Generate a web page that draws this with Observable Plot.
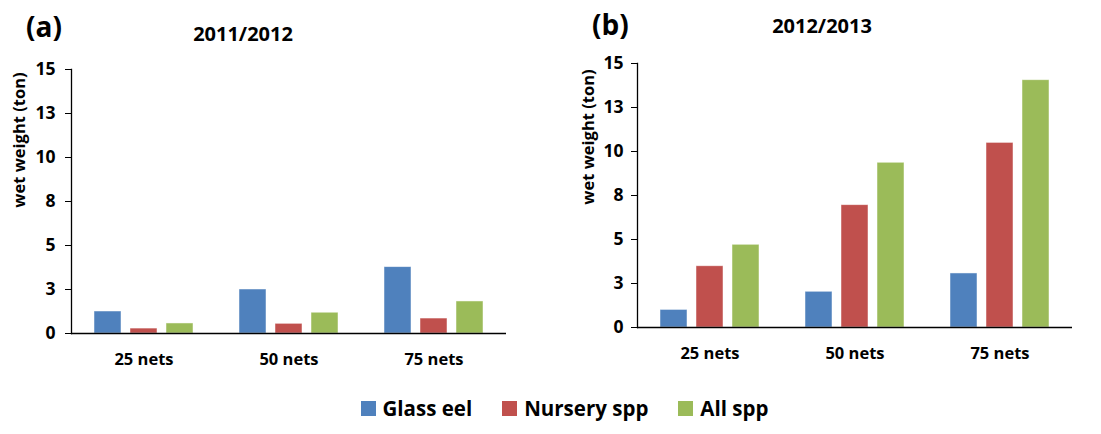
<!DOCTYPE html>
<html>
<head>
<meta charset="utf-8">
<script src="https://cdn.jsdelivr.net/npm/d3@7"></script>
<script src="https://cdn.jsdelivr.net/npm/@observablehq/plot@0.6"></script>
<style>
  html, body { margin: 0; padding: 0; background: #fff; }
  #root { position: relative; width: 1101px; height: 434px; font-family: "Open Sans", sans-serif; font-weight: bold; color: #000; overflow: hidden; }
  .panel { position: absolute; top: 0; }
  .tag { position: absolute; font-size: 28px; line-height: 1; }
  .title { position: absolute; font-size: 20px; line-height: 1; transform: translateX(-50%); }
  .ylab { position: absolute; font-size: 16.5px; line-height: 1; white-space: nowrap; transform: translate(-50%, -50%) rotate(-90deg); }
  #legend { position: absolute; top: 398px; left: 14px; width: 1101px; display: flex; justify-content: center; gap: 30px; font-size: 20.5px; line-height: 1; }
  #legend span.item { display: flex; align-items: center; gap: 7px; }
  #legend span.sw { width: 15px; height: 15px; display: inline-block; }
</style>
</head>
<body>
<div id="root"></div>
<script>
// Net counts on the x axis and the three catch series
const categories = ["25 nets", "50 nets", "75 nets"];
const series = ["Glass eel", "Nursery spp", "All spp"];
const colors = ["#4F81BD", "#C0504D", "#9BBB59"];

// Season 2011/2012, wet weight in tons
const glassEel2011 = [1.25, 2.5, 3.77];
const nursery2011 = [0.28, 0.55, 0.85];
const allSpp2011 = [0.57, 1.18, 1.82];

// Season 2012/2013, wet weight in tons
const glassEel2012 = [1.0, 2.03, 3.07];
const nursery2012 = [3.48, 6.95, 10.49];
const allSpp2012 = [4.7, 9.36, 14.05];

// y ticks every 2.5 t, labelled as whole numbers
const yTicks = [0, 2.5, 5, 7.5, 10, 12.5, 15];

function rows(lists) {
  const out = [];
  categories.forEach((c, i) => {
    series.forEach((s, j) => out.push({nets: c, series: s, value: lists[j][i]}));
  });
  return out;
}

function panel({data, width, marginLeft, marginRight, marginTop, marginBottom, tickPadding}) {
  return Plot.plot({
    width,
    height: 380,
    marginLeft, marginRight, marginTop, marginBottom,
    style: {fontFamily: "Open Sans", fontWeight: "bold", color: "#000", background: "transparent"},
    fx: {domain: categories, paddingInner: 0, paddingOuter: 0, label: null},
    x: {domain: series, paddingInner: 0.243, paddingOuter: 0.59, axis: null},
    y: {domain: [0, 15], label: null},
    color: {domain: series, range: colors},
    marks: [
      Plot.axisFx({anchor: "bottom", tickSize: 0, tickPadding: 20, fontSize: 16.5, label: null}),
      Plot.axisY({anchor: "left", ticks: yTicks, tickFormat: d => String(Math.round(d)), tickSize: 6, tickPadding, fontSize: 17.5, label: null}),
      Plot.frame({anchor: "left", facetAnchor: "left", stroke: "#000", strokeWidth: 1.3}),
      Plot.barY(data, {fx: "nets", x: "series", y: "value", fill: "series", stroke: "#ffffff", strokeOpacity: 0.6, strokeWidth: 0.8}),
      Plot.ruleY([0], {stroke: "#000", strokeWidth: 1.6})
    ]
  });
}

const root = document.getElementById("root");

const a = panel({data: rows([glassEel2011, nursery2011, allSpp2011]), width: 550, marginLeft: 70, marginRight: 43, marginTop: 69, marginBottom: 47, tickPadding: 10});
a.classList.add("panel"); a.style.left = "0px";
root.appendChild(a);

const b = panel({data: rows([glassEel2012, nursery2012, allSpp2012]), width: 551, marginLeft: 86, marginRight: 28, marginTop: 63, marginBottom: 53, tickPadding: 8});
b.classList.add("panel"); b.style.left = "550px";
root.appendChild(b);

function addText(cls, text, left, top) {
  const d = document.createElement("div");
  d.className = cls;
  d.textContent = text;
  d.style.left = left + "px";
  d.style.top = top + "px";
  root.appendChild(d);
}
addText("tag", "(a)", 26, 12);
addText("title", "2011/2012", 243, 24);
addText("ylab", "wet weight (ton)", 19, 140);
addText("tag", "(b)", 592, 10);
addText("title", "2012/2013", 822, 16);
addText("ylab", "wet weight (ton)", 588, 137);

const legend = document.createElement("div");
legend.id = "legend";
series.forEach((s, i) => {
  const item = document.createElement("span");
  item.className = "item";
  const sw = document.createElement("span");
  sw.className = "sw";
  sw.style.background = colors[i];
  item.appendChild(sw);
  item.appendChild(document.createTextNode(s));
  legend.appendChild(item);
});
root.appendChild(legend);
</script>
</body>
</html>
